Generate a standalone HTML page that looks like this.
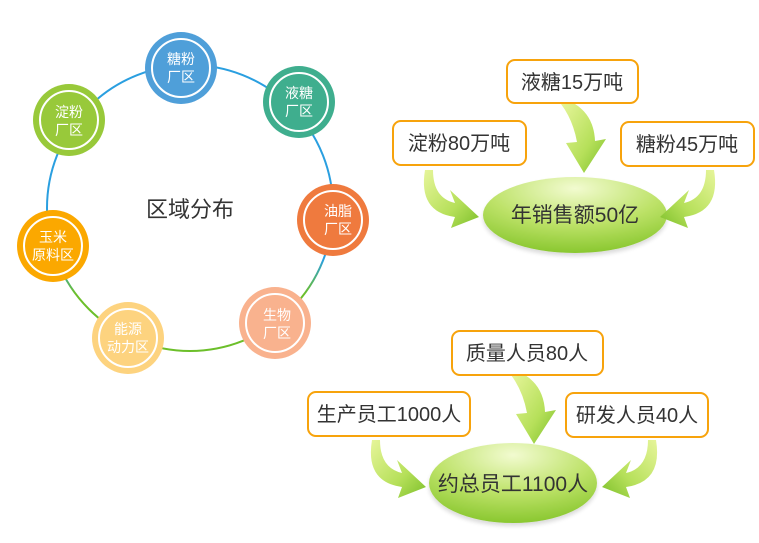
<!DOCTYPE html>
<html><head><meta charset="utf-8"><style>
html,body{margin:0;padding:0;background:#fff;}
svg{display:block;font-family:"Liberation Sans","Noto Sans CJK SC",sans-serif;}
</style></head><body>
<svg width="759" height="543" viewBox="0 0 759 543" xmlns="http://www.w3.org/2000/svg">
<defs>
<linearGradient id="ring" x1="0" y1="0" x2="0" y2="1" gradientUnits="objectBoundingBox">
<stop offset="0" stop-color="#2a9fe0"/><stop offset="0.68" stop-color="#2a9fe0"/><stop offset="0.8" stop-color="#6cbf2a"/><stop offset="1" stop-color="#6cbf2a"/></linearGradient>
<radialGradient id="ell" cx="0.5" cy="0.15" r="0.95">
<stop offset="0" stop-color="#f2fbd0"/><stop offset="0.5" stop-color="#bde268"/><stop offset="1" stop-color="#7cc021"/></radialGradient>
<linearGradient id="arr" x1="0" y1="0" x2="1" y2="1">
<stop offset="0" stop-color="#e6f59a"/><stop offset="0.6" stop-color="#b6e05a"/><stop offset="1" stop-color="#7cbf2a"/></linearGradient>
<filter id="sh" x="-20%" y="-20%" width="140%" height="150%"><feGaussianBlur in="SourceAlpha" stdDeviation="2"/><feOffset dy="3"/><feComponentTransfer><feFuncA type="linear" slope="0.15"/></feComponentTransfer><feMerge><feMergeNode/><feMergeNode in="SourceGraphic"/></feMerge></filter>
<path id="la" d="M425,170 L433,170 Q433,198 455,203 L450,190 L479,217 L451,228 L455,217 Q418,212 425,170 Z"/>
<path id="ma" d="M561,104 L575,104 Q594,116 595,141 L606,139 L584,173 L566,143 L577,142 Q573,120 561,104 Z"/>
</defs>

<circle cx="190" cy="208" r="143" fill="none" stroke="url(#ring)" stroke-width="2"/>

<g font-size="14" fill="#fff" text-anchor="middle">
<g><circle cx="181" cy="68" r="36" fill="#4f9fd9"/><circle cx="181" cy="68" r="29" fill="none" stroke="#fff" stroke-width="2"/><text x="181" y="64">糖粉</text><text x="181" y="82">厂区</text></g>
<g><circle cx="299" cy="102" r="36" fill="#3fae8e"/><circle cx="299" cy="102" r="29" fill="none" stroke="#fff" stroke-width="2"/><text x="299" y="98">液糖</text><text x="299" y="116">厂区</text></g>
<g><circle cx="333" cy="220" r="36" fill="#ef7a3e"/><circle cx="333" cy="220" r="29" fill="none" stroke="#fff" stroke-width="2"/><text x="338" y="216">油脂</text><text x="338" y="234">厂区</text></g>
<g><circle cx="275" cy="323" r="36" fill="#f9b28e"/><circle cx="275" cy="323" r="29" fill="none" stroke="#fff" stroke-width="2"/><text x="277" y="320">生物</text><text x="277" y="338">厂区</text></g>
<g><circle cx="128" cy="338" r="36" fill="#fdd37f"/><circle cx="128" cy="338" r="29" fill="none" stroke="#fff" stroke-width="2"/><text x="128" y="334">能源</text><text x="128" y="352">动力区</text></g>
<g><circle cx="53" cy="246" r="36" fill="#fba800"/><circle cx="53" cy="246" r="29" fill="none" stroke="#fff" stroke-width="2"/><text x="53" y="242">玉米</text><text x="53" y="260">原料区</text></g>
<g><circle cx="69" cy="120" r="36" fill="#98c93a"/><circle cx="69" cy="120" r="29" fill="none" stroke="#fff" stroke-width="2"/><text x="69" y="117">淀粉</text><text x="69" y="135">厂区</text></g>
</g>
<text x="190" y="217" font-size="22" fill="#333" text-anchor="middle">区域分布</text>

<ellipse cx="575" cy="215" rx="92" ry="38" fill="url(#ell)" filter="url(#sh)"/>
<text x="575" y="222" font-size="21" fill="#333" text-anchor="middle">年销售额50亿</text>
<use href="#la" fill="url(#arr)"/>
<use href="#la" fill="url(#arr)" transform="translate(1139,0) scale(-1,1)"/>
<use href="#ma" fill="url(#arr)"/>
<g fill="#fff" stroke="#f7a30c" stroke-width="2">
<rect x="507" y="60" width="131" height="43" rx="8"/>
<rect x="393" y="121" width="133" height="44" rx="8"/>
<rect x="621" y="122" width="133" height="44" rx="8"/>
</g>
<g font-size="20" fill="#333" text-anchor="middle">
<text x="572" y="89">液糖15万吨</text>
<text x="459" y="150">淀粉80万吨</text>
<text x="687" y="151">糖粉45万吨</text>
</g>

<ellipse cx="513" cy="483" rx="84" ry="40" fill="url(#ell)" filter="url(#sh)"/>
<text x="513" y="491" font-size="21" fill="#333" text-anchor="middle">约总员工1100人</text>
<use href="#la" fill="url(#arr)" transform="translate(-53,270)"/>
<use href="#la" fill="url(#arr)" transform="translate(1028,0) scale(-1,1) translate(-53,270)"/>
<use href="#ma" fill="url(#arr)" transform="translate(-50,271)"/>
<g fill="#fff" stroke="#f7a30c" stroke-width="2">
<rect x="452" y="331" width="151" height="44" rx="8"/>
<rect x="308" y="392" width="162" height="44" rx="8"/>
<rect x="566" y="393" width="142" height="44" rx="8"/>
</g>
<g font-size="20" fill="#333" text-anchor="middle">
<text x="527" y="360">质量人员80人</text>
<text x="389" y="421">生产员工1000人</text>
<text x="637" y="422">研发人员40人</text>
</g>
</svg>
</body></html>
